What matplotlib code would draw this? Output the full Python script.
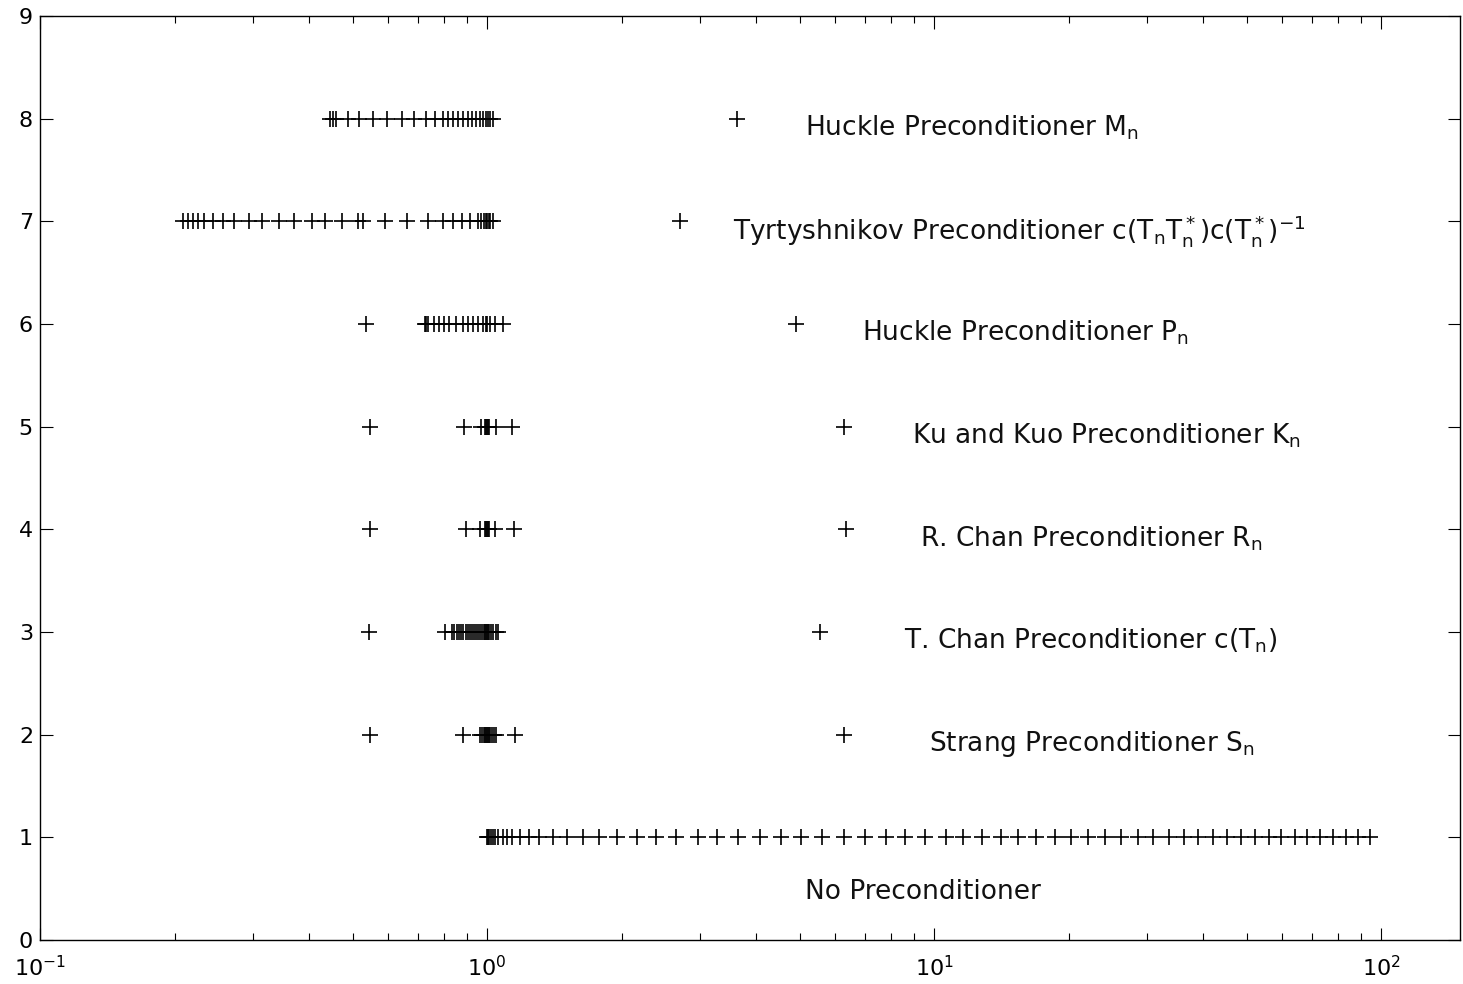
import matplotlib
matplotlib.use('Agg')
import matplotlib.pyplot as plt
from matplotlib.ticker import LogLocator, NullFormatter

plt.rcParams['font.family'] = ['DejaVu Sans']
plt.rcParams['mathtext.fontset'] = 'custom'
plt.rcParams['mathtext.rm'] = 'DejaVu Sans'
plt.rcParams['mathtext.it'] = 'DejaVu Sans'
plt.rcParams['mathtext.bf'] = 'DejaVu Sans:bold'
plt.rcParams['mathtext.default'] = 'regular'

# ---- data: eigenvalue / singular value distributions per preconditioner ----
row_none = [1.0, 1.005, 1.01, 1.02, 1.03, 1.04, 1.058, 1.086, 1.108, 1.137, 1.185,
            1.241, 1.306, 1.404, 1.509, 1.638, 1.778, 1.950, 2.162, 2.384, 2.642,
            2.958, 3.262, 3.634, 4.068, 4.532, 5.049, 5.623, 6.297, 7.015, 7.815,
            8.617, 9.548, 10.64, 11.61, 12.80, 14.11, 15.40, 16.90, 18.63, 20.22,
            22.07, 24.08, 26.15, 28.54, 30.83, 33.46, 36.14, 38.85, 41.96, 45.08,
            48.45, 52.06, 55.96, 59.81, 64.27, 68.38, 73.07, 78.15, 83.56, 88.85, 94.5]
row_strang = [0.548, 0.884, 0.965, 0.975, 0.985, 0.99, 0.995, 1.0, 1.005, 1.01,
              1.015, 1.025, 1.035, 1.045, 1.155, 6.30]
row_tchan = [0.543, 0.806, 0.835, 0.845, 0.855, 0.865, 0.875, 0.885, 0.895, 0.905,
             0.915, 0.925, 0.935, 0.945, 0.955, 0.965, 0.975, 0.985, 0.99, 0.995,
             1.0, 1.005, 1.01, 1.02, 1.03, 1.045, 1.06, 5.54]
row_rchan = [0.548, 0.898, 0.965, 0.99, 0.995, 1.0, 1.005, 1.01, 1.042, 1.149, 6.35]
row_kukuo = [0.548, 0.889, 0.970, 0.99, 0.995, 1.0, 1.005, 1.01, 1.047, 1.137, 6.30]
row_huckle_p = [0.537, 0.726, 0.731, 0.736, 0.761, 0.781, 0.802, 0.823, 0.853, 0.884,
                0.907, 0.931, 0.955, 0.98, 0.995, 1.0, 1.015, 1.042, 1.086, 4.92]
row_tyrty = [0.2086, 0.2140, 0.2196, 0.2253, 0.2323, 0.2432, 0.2561, 0.2710, 0.2927,
             0.3145, 0.3416, 0.3690, 0.4069, 0.4349, 0.4747, 0.5155, 0.5289, 0.5920,
             0.6628, 0.7385, 0.7975, 0.8397, 0.8794, 0.9164, 0.9548, 0.9700, 0.9847,
             0.993, 1.0, 1.008, 1.0155, 1.031, 2.697]
row_huckle_m = [0.4462, 0.4531, 0.4602, 0.4895, 0.5181, 0.5566, 0.5980, 0.6459, 0.6873,
                0.7309, 0.7654, 0.7975, 0.8183, 0.8397, 0.8615, 0.8841, 0.9070, 0.9259,
                0.9450, 0.9646, 0.9796, 0.9949, 1.0051, 1.0155, 1.031, 3.614]

row_values = [row_none, row_strang, row_tchan, row_rchan, row_kukuo,
              row_huckle_p, row_tyrty, row_huckle_m]
row_levels = [1, 2, 3, 4, 5, 6, 7, 8]

labels = ['No Preconditioner',
          r'Strang Preconditioner S$_n$',
          r'T. Chan Preconditioner c(T$_n$)',
          r'R. Chan Preconditioner R$_n$',
          r'Ku and Kuo Preconditioner K$_n$',
          r'Huckle Preconditioner P$_n$',
          r'Tyrtyshnikov Preconditioner c(T$_n$T$_n^*$)c(T$_n^*$)$^{-1}$',
          r'Huckle Preconditioner M$_n$']
label_x = [5.13, 9.75, 8.57, 9.31, 8.93, 6.91, 3.54, 5.13]
label_y = [0.47, 1.91, 2.91, 3.91, 4.91, 5.91, 6.91, 7.91]

y_ticks = [0, 1, 2, 3, 4, 5, 6, 7, 8, 9]

fig = plt.figure(figsize=(14.63, 9.84), dpi=100)
ax = fig.add_axes([40 / 1463, 44 / 984, 1420 / 1463, 924 / 984])

for vals, lev in zip(row_values, row_levels):
    ax.plot(vals, [lev] * len(vals), linestyle='none', marker='+',
            color='black', markersize=11, markeredgewidth=1.2)

for txt, x, y in zip(labels, label_x, label_y):
    ax.text(x, y, txt, fontsize=19, ha='left', va='center', color='#111111')

ax.set_xscale('log')
ax.set_xlim(0.1, 150)
ax.set_ylim(0, 9)
ax.set_yticks(y_ticks)
ax.xaxis.set_major_locator(LogLocator(base=10, numticks=10))
ax.xaxis.set_minor_locator(LogLocator(base=10, subs=range(2, 10), numticks=20))
ax.xaxis.set_minor_formatter(NullFormatter())

ax.tick_params(which='both', direction='in', top=True, right=True,
               labelsize=16, width=0.8, colors='black')
ax.tick_params(which='major', length=9)
ax.tick_params(axis='y', which='major', pad=5)
ax.tick_params(axis='x', which='major', pad=11)
ax.tick_params(which='minor', length=5)
for sp in ax.spines.values():
    sp.set_linewidth(1.0)

fig.savefig('out.png', dpi=100)
